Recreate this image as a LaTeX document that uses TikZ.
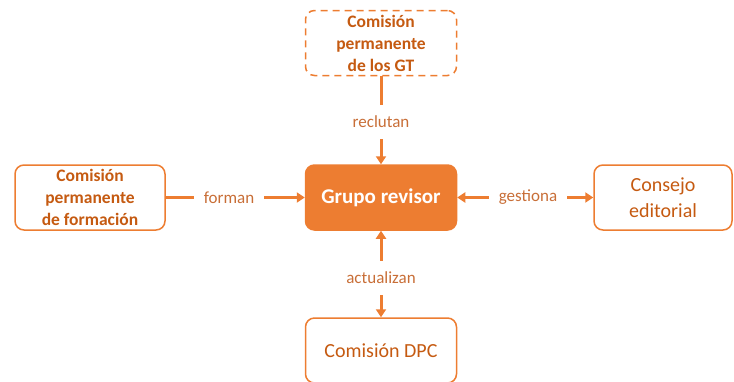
\documentclass[tikz,border=0pt]{standalone}
\usepackage{fontspec}
\setmainfont{Carlito}
\usetikzlibrary{arrows.meta}
\definecolor{naranja}{RGB}{237, 125, 49}
\definecolor{oscuro}{RGB}{197, 90, 17}
\definecolor{suave}{RGB}{200, 110, 55}

\begin{document}
\begin{tikzpicture}[x=1pt, y=-1pt,
  caja/.style={draw=naranja, line width=1.5pt, rounded corners=9pt, align=center,
    text=oscuro, minimum width=151pt, minimum height=65pt, inner sep=1pt},
  etiqueta/.style={text=suave, font=\fontsize{17}{20}\selectfont, inner xsep=10pt, inner ysep=11pt},
  enlace/.style={draw=naranja, line width=3pt},
  flecha/.style={enlace, -{Triangle[length=8pt, width=10pt]}}]
  \useasboundingbox (0, 0) rectangle (734, 381);

  % cajas
  \node[caja, fill=naranja, text=white, font=\bfseries\fontsize{21}{24}\selectfont]
    (grupo) at (381, 197.5) {Grupo revisor};
  \node[caja, dashed, dash pattern=on 7pt off 5pt, font=\bfseries\fontsize{17.5}{22}\selectfont]
    (gt) at (381, 43) {Comisión\\permanente\\de los GT};
  \node[caja, minimum width=150pt, font=\bfseries\fontsize{17.5}{22}\selectfont]
    (formacion) at (90, 197.5) {Comisión\\permanente\\de formación};
  \node[caja, minimum width=138pt, font=\fontsize{20}{26}\selectfont]
    (consejo) at (663, 197.5) {Consejo\\editorial};
  \node[caja, font=\fontsize{20}{24}\selectfont]
    (dpc) at (381, 350.5) {Comisión DPC};

  % etiquetas
  \node[etiqueta] (reclutan) at (381, 122) {reclutan};
  \node[etiqueta] (forman) at (229, 197.5) {forman};
  \node[etiqueta] (gestiona) at (528, 197.5) {gestiona};
  \node[etiqueta] (actualizan) at (381, 278) {actualizan};

  % conexiones
  \draw[enlace] (gt.south) -- (reclutan.north);
  \draw[flecha] (reclutan.south) -- (grupo.north);
  \draw[enlace] (formacion.east) -- (forman.west);
  \draw[flecha] (forman.east) -- (grupo.west);
  \draw[flecha] (gestiona.west) -- (grupo.east);
  \draw[flecha] (gestiona.east) -- (consejo.west);
  \draw[flecha] (actualizan.north) -- (grupo.south);
  \draw[flecha] (actualizan.south) -- (dpc.north);
\end{tikzpicture}
\end{document}
